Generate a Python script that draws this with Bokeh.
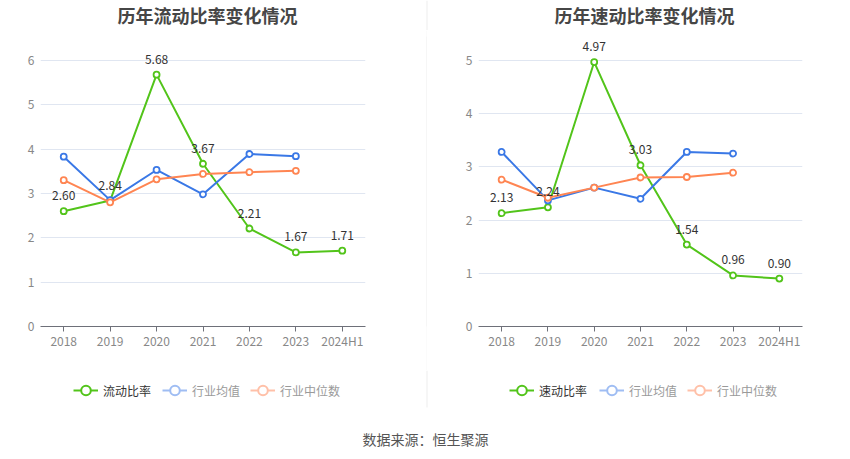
from bokeh.plotting import figure
from bokeh.models import (ColumnDataSource, Range1d, FactorRange, Legend, LegendItem,
                          Label, FixedTicker, BoxAnnotation)
from bokeh.layouts import row, column
from bokeh.embed import file_html
from bokeh.resources import INLINE
from bokeh.core.properties import value

years = ["2018", "2019", "2020", "2021", "2022", "2023", "2024H1"]
years_ind = ["2018", "2019", "2020", "2021", "2022", "2023"]

current_ratio = [2.60, 2.84, 5.68, 3.67, 2.21, 1.67, 1.71]
current_ind_mean = [3.83, 2.85, 3.53, 2.98, 3.89, 3.84]
current_ind_median = [3.30, 2.80, 3.32, 3.44, 3.48, 3.51]

quick_ratio = [2.13, 2.24, 4.97, 3.03, 1.54, 0.96, 0.90]
quick_ind_mean = [3.28, 2.37, 2.61, 2.40, 3.28, 3.25]
quick_ind_median = [2.76, 2.42, 2.61, 2.80, 2.81, 2.89]

yticks_current = [0, 1, 2, 3, 4, 5, 6]
yticks_quick = [0, 1, 2, 3, 4, 5]

FONT = "Noto Sans CJK SC"
GREEN = "#52c41a"
BLUE = "#3a78e6"
ORANGE = "#ff8552"
BLUE_L = "#9fbdf3"
ORANGE_L = "#ffc0a8"
DIVIDER = "#eeeeee"


def blank(width, height):
    f = figure(width=width, height=height, output_backend="svg", toolbar_location=None,
               x_axis_type=None, y_axis_type=None, min_border=0,
               x_range=Range1d(0, 1), y_range=Range1d(0, 1))
    f.outline_line_color = None
    f.xgrid.visible = False
    f.ygrid.visible = False
    return f


def make_chart(main, mean, median, ytop, yticks, width, left, right):
    p = figure(width=width, height=340, x_range=FactorRange(*years),
               y_range=Range1d(0, ytop), output_backend="svg", toolbar_location=None,
               min_border_left=left, min_border_right=right, min_border_top=6,
               min_border_bottom=44)
    p.outline_line_color = None
    p.xgrid.grid_line_color = None
    p.ygrid.grid_line_color = "#e0e6f1"
    p.ygrid.ticker = FixedTicker(ticks=yticks)

    p.yaxis.ticker = FixedTicker(ticks=yticks)
    p.yaxis.axis_line_color = None
    p.yaxis.major_tick_line_color = None
    p.yaxis.minor_tick_line_color = None
    p.yaxis.major_tick_out = 0
    p.yaxis.major_label_standoff = 6
    p.yaxis.major_label_text_color = "#888888"
    p.yaxis.major_label_text_font = FONT
    p.yaxis.major_label_text_font_size = "12px"

    p.xaxis.axis_line_color = "#6e7079"
    p.xaxis.major_tick_line_color = "#6e7079"
    p.xaxis.major_tick_out = 5
    p.xaxis.major_tick_in = 0
    p.xaxis.major_label_standoff = 0
    p.xaxis.major_label_text_color = "#888888"
    p.xaxis.major_label_text_font = FONT
    p.xaxis.major_label_text_font_size = "12px"

    src_main = ColumnDataSource(dict(x=years, y=main, t=["%.2f" % v for v in main]))
    src_mean = ColumnDataSource(dict(x=years_ind, y=mean))
    src_med = ColumnDataSource(dict(x=years_ind, y=median))

    for src, c in ((src_main, GREEN), (src_mean, BLUE), (src_med, ORANGE)):
        p.line("x", "y", source=src, line_color=c, line_width=2)
        p.scatter("x", "y", source=src, marker="circle", size=6, fill_color="white",
                  line_color=c, line_width=1.8)

    p.text("x", "y", text="t", source=src_main, text_align="center",
           text_baseline="bottom", y_offset=-11, text_color="#333333",
           text_font=value(FONT), text_font_size="12px")
    return p


# header with titles
head = blank(850, 30)
head.add_layout(BoxAnnotation(left=426, right=427, left_units="screen",
                              right_units="screen", fill_color=DIVIDER, fill_alpha=1,
                              line_color=None))
for tx, tt in ((207, "历年流动比率变化情况"), (644, "历年速动比率变化情况")):
    head.add_layout(Label(x=tx, y=16, x_units="screen", y_units="screen", text=tt,
                          text_align="center", text_baseline="middle",
                          text_font=FONT, text_font_size="18px",
                          text_font_style="bold", text_color="#464646"))

p1 = make_chart(current_ratio, current_ind_mean, current_ind_median, 6.54,
                yticks_current, 426, 40, 61)
p2 = make_chart(quick_ratio, quick_ind_mean, quick_ind_median, 5.45,
                yticks_quick, 423, 51, 48)

div = figure(width=1, height=340, output_backend="svg", toolbar_location=None,
             x_axis_type=None, y_axis_type=None, min_border=0,
             background_fill_color=DIVIDER, border_fill_color=DIVIDER)
div.outline_line_color = None
div.xgrid.visible = False
div.ygrid.visible = False

# footer with legends and source
foot = blank(850, 89)
foot.add_layout(BoxAnnotation(left=426, right=427, bottom=52, top=89,
                              left_units="screen", right_units="screen",
                              bottom_units="screen", top_units="screen",
                              fill_color=DIVIDER, fill_alpha=1, line_color=None))

nan = float("nan")


def proxy(c):
    l = foot.line(x=[nan], y=[nan], line_color=c, line_width=2)
    s = foot.scatter(x=[nan], y=[nan], marker="circle", size=10, fill_color="white",
                     line_color=c, line_width=2)
    return [l, s]


common = dict(orientation="horizontal", glyph_width=25, glyph_height=24,
              label_standoff=5, spacing=10, padding=0, margin=0,
              background_fill_alpha=0, border_line_color=None,
              label_text_font=FONT, label_text_font_size="12px",
              label_height=24)
for name, lx1, lx2 in (("流动比率", 73, 162), ("速动比率", 509, 599)):
    foot.add_layout(Legend(items=[LegendItem(label=name, renderers=proxy(GREEN))],
                           location=(lx1, 57), label_text_color="#333333", **common))
    foot.add_layout(Legend(items=[LegendItem(label="行业均值", renderers=proxy(BLUE_L)),
                                  LegendItem(label="行业中位数", renderers=proxy(ORANGE_L))],
                           location=(lx2, 57), label_text_color="#9a9a9a", **common))

foot.add_layout(Label(x=425, y=21, x_units="screen", y_units="screen",
                      text="数据来源：恒生聚源", text_align="center",
                      text_baseline="middle", text_font=FONT, text_font_size="14px",
                      text_color="#555555"))

layout = column(head, row(p1, div, p2), foot)
open("out.html", "w").write(file_html(layout, INLINE))
